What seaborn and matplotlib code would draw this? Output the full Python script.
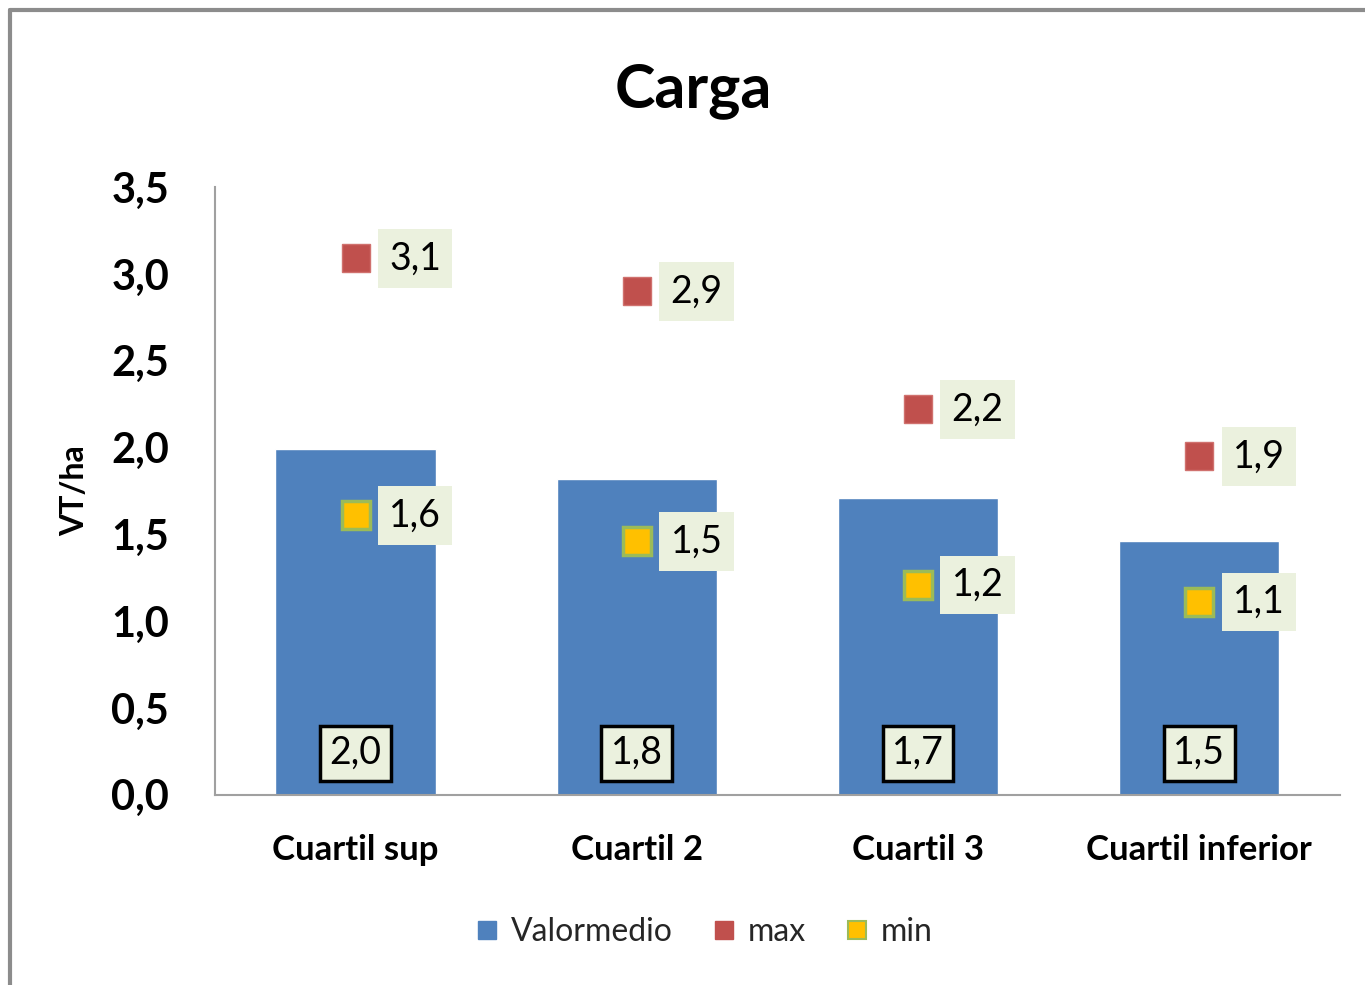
import pandas as pd
import matplotlib.pyplot as plt
import seaborn as sns
from matplotlib.ticker import FuncFormatter
from matplotlib.lines import Line2D

# data
categorias = ['Cuartil sup', 'Cuartil 2', 'Cuartil 3', 'Cuartil inferior']
valor_medio = [1.99, 1.82, 1.71, 1.46]
maximo = [3.09, 2.90, 2.22, 1.95]
minimo = [1.61, 1.46, 1.21, 1.11]

df = pd.DataFrame({'cat': categorias, 'medio': valor_medio, 'max': maximo, 'min': minimo})

sns.set_theme(style='white')
plt.rcParams['font.family'] = ['Lato', 'DejaVu Sans']

azul = '#4F81BD'
rojo = '#C0504D'
amarillo = '#FFC000'
fondo = '#EBF1DE'

fig = plt.figure(figsize=(13.65, 9.85), dpi=100)
ax = fig.add_axes([0.1575, 0.193, 0.824, 0.617])

sns.barplot(data=df, x='cat', y='medio', color=azul, width=0.57, saturation=1, ax=ax)
ax.plot(range(4), df['max'], ls='none', marker='s', ms=20, mfc=rojo, mec='#D0716E', mew=1)
ax.plot(range(4), df['min'], ls='none', marker='s', ms=20, mfc=amarillo, mec='#9BBB59', mew=2.5)

def coma(v, pos=None):
    return f'{v:.1f}'.replace('.', ',')

for i, row in df.iterrows():
    for col in ['max', 'min']:
        ax.annotate(coma(row[col]), (i, row[col]), xytext=(43, 0), textcoords='offset points',
                    ha='center', va='center', fontsize=27, color='black',
                    bbox=dict(boxstyle='square,pad=0.3', fc=fondo, ec='none'))
    ax.text(i, 0.24, coma(row['medio']), ha='center', va='center', fontsize=27, color='black',
            bbox=dict(boxstyle='square,pad=0.25', fc=fondo, ec='black', lw=2.5))

ax.set_ylim(0, 3.5)
ax.set_xlim(-0.5, 3.5)
ax.set_yticks([0, 0.5, 1, 1.5, 2, 2.5, 3, 3.5])
ax.yaxis.set_major_formatter(FuncFormatter(coma))
ax.tick_params(axis='y', labelsize=30, pad=27, labelcolor='black')
ax.tick_params(axis='x', labelsize=25, pad=22, labelcolor='black')
for lab in ax.get_yticklabels() + ax.get_xticklabels():
    lab.set_fontweight('bold')
ax.set_xlabel('')
ax.set_ylabel('VT/ha', fontsize=23, fontweight='bold', color='black')
ax.yaxis.set_label_coords(-0.112, 0.5)

sns.despine(ax=ax)
for s in ['left', 'bottom']:
    ax.spines[s].set_color('#A0A0A0')
    ax.spines[s].set_linewidth(1.5)

fig.text(0.508, 0.908, 'Carga', fontsize=44, fontweight='bold', ha='center', va='center', color='black')

handles = [
    Line2D([], [], ls='none', marker='s', ms=13, mfc=azul, mec=azul),
    Line2D([], [], ls='none', marker='s', ms=13, mfc=rojo, mec=rojo),
    Line2D([], [], ls='none', marker='s', ms=13, mfc=amarillo, mec='#9BBB59', mew=1.5),
]
fig.legend(handles, ['Valormedio', 'max', 'min'], loc='center', bbox_to_anchor=(0.513, 0.054),
           ncol=3, frameon=False, fontsize=23, handletextpad=0.15, handlelength=1.2,
           columnspacing=1.0)

# outer chart border (top and left visible)
fig.add_artist(Line2D([0.0075, 0.0075], [0, 0.99], transform=fig.transFigure, color='#8C8C8C', lw=3))
fig.add_artist(Line2D([0.0075, 1.0], [0.99, 0.99], transform=fig.transFigure, color='#8C8C8C', lw=3))

fig.savefig('out.png', dpi=100, facecolor='white')
